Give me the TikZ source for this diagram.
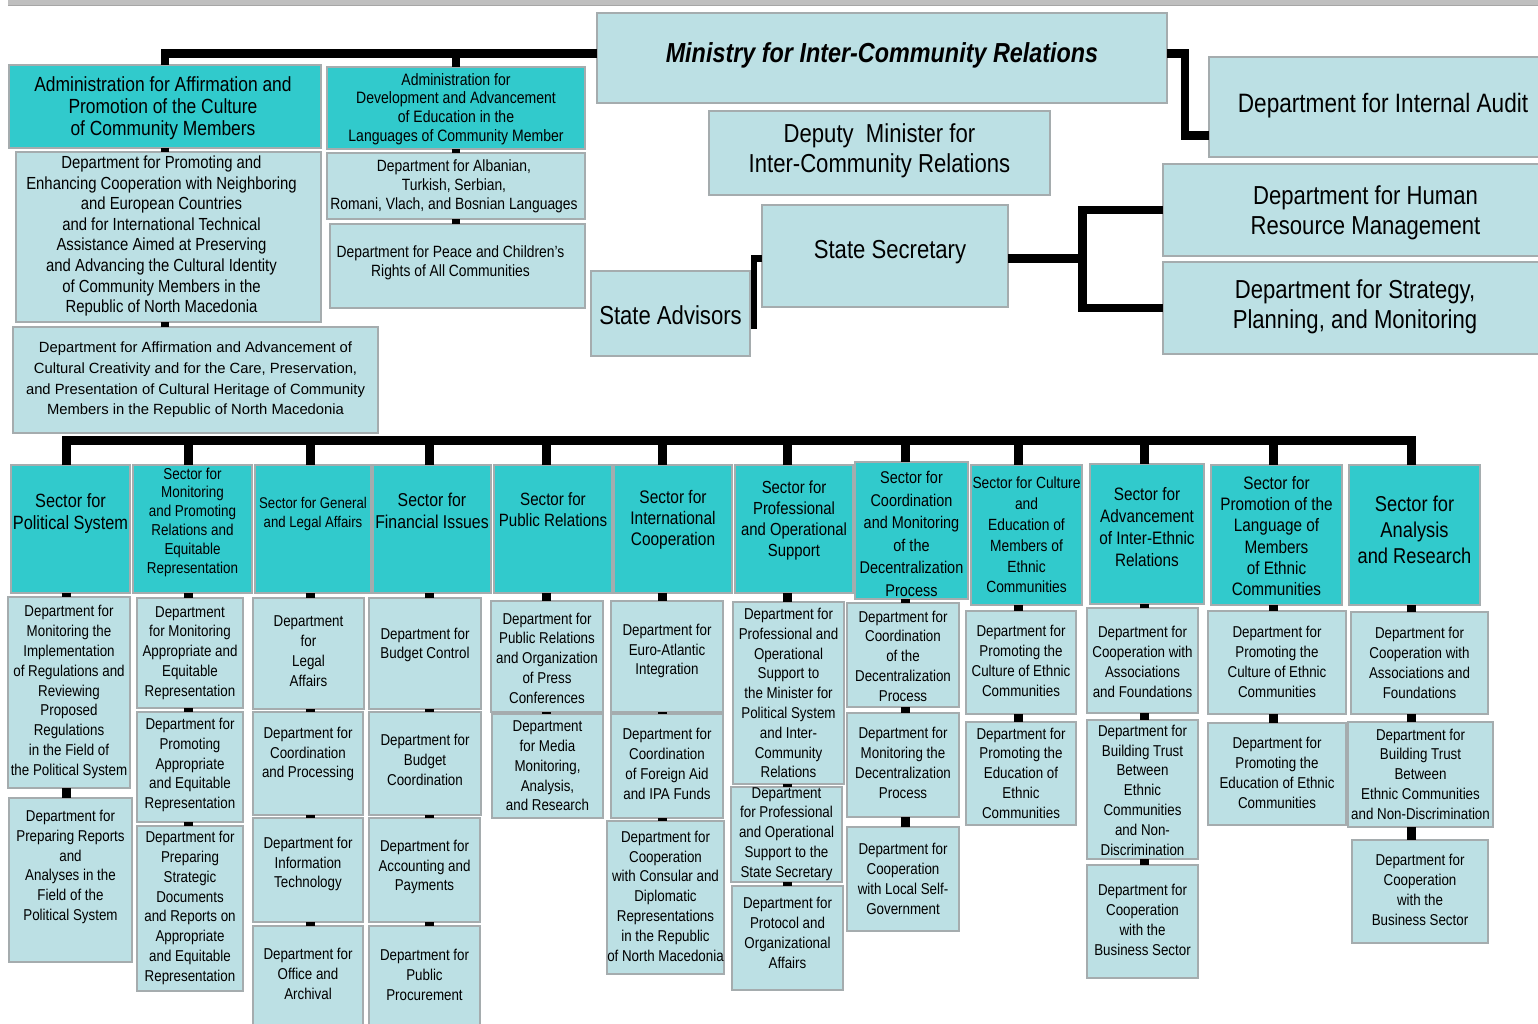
\documentclass[tikz,border=0pt]{standalone}
\usepackage{fontspec}
\setmainfont[FakeStretch=0.85]{Liberation Sans}
\newfontfamily\plainsans{Liberation Sans}
\usetikzlibrary{calc}
\definecolor{secteal}{RGB}{49,202,204}
\definecolor{deptblue}{RGB}{188,224,228}
\definecolor{edgegray}{RGB}{165,172,174}
\definecolor{bargray}{RGB}{191,191,191}

% \bx{name}{box style}{text style}{x1}{y1}{x2}{y2}{text centre y}{text}
\newcommand\bx[9]{%
  \node[#2, minimum width={#6pt-#4pt}, minimum height={#7pt-#5pt}] (#1) at ({(#4+#6)/2},{(#5+#7)/2}) {};
  \node[#3, align=center, inner sep=0pt] (#1-t) at ({(#4+#6)/2},#8) {#9};
}

\begin{document}
\begin{tikzpicture}[x=1pt,y=-1pt,
  box/.style={rectangle, draw=edgegray, line width=1.2pt, inner sep=0pt, outer sep=0pt},
  sec/.style={box, fill=secteal},
  dep/.style={box, fill=deptblue},
  tx/.style 2 args={font=\fontsize{#1}{#2}\selectfont},
  dt/.style={tx={15.7}{19.8}},
  big/.style={tx={26}{30}},
  widetext/.style={font=\plainsans\fontsize{14.8}{20.6}\selectfont},
  conn/.style={draw=black, line width=8.5pt, line join=miter},
  bus/.style={draw=black, line width=9pt, line join=miter},
]
\useasboundingbox (0,0) rectangle (1538,1023);

% header strip
\fill[bargray] (8,0) rectangle (1538,5);
\draw[black!35, line width=1pt] (8,5) -- (1538,5);

% ---------- leadership ----------
\bx{ministry}{dep}{tx={27.5}{30}}{597}{13}{1167}{103}{55}{\bfseries\itshape Ministry for Inter-Community Relations}
\bx{audit}{dep}{tx={26.6}{30}}{1209}{57}{1557}{157}{106}{Department for Internal Audit}
\bx{deputy}{dep}{big}{709}{111}{1050}{195}{151}{Deputy\ \ Minister for\\Inter-Community Relations}
\bx{ss}{dep}{big,xshift=5pt}{762}{205}{1008}{307}{252}{State Secretary}
\bx{sa}{dep}{big}{591}{271}{750}{356}{315}{State Advisors}
\bx{hr}{dep}{big}{1163}{164}{1568}{256}{213}{Department for Human\\Resource Management}
\bx{strat}{dep}{big}{1163}{262}{1547}{354}{307}{Department for Strategy,\\Planning, and Monitoring}

% ---------- administrations ----------
\bx{adm1}{sec}{tx={20.5}{22}, xshift=-2pt}{9}{65}{321}{148}{108}{Administration for Affirmation and\\Promotion of the Culture\\of Community Members}
\bx{adm2}{sec}{tx={16.5}{18.7}}{327}{67}{585}{149}{109}{Administration for\\Development and Advancement\\of Education in the\\Languages of Community Member}
\bx{da1}{dep}{tx={17.5}{20.6}, xshift=-7pt}{16}{152}{321}{322}{236}{Department for Promoting and\\Enhancing Cooperation with Neighboring\\and European Countries\\and for International Technical\\Assistance Aimed at Preserving\\and Advancing the Cultural Identity\\of Community Members in the\\Republic of North Macedonia}
\bx{daff}{dep}{widetext}{13}{327}{378}{433}{380}{Department for Affirmation and Advancement of\\Cultural Creativity and for the Care, Preservation,\\and Presentation of Cultural Heritage of Community\\Members in the Republic of North Macedonia}
\bx{alb}{dep}{tx={16.3}{19}, xshift=-2pt}{327}{153}{585}{219}{186}{Department for Albanian,\\Turkish, Serbian,\\Romani, Vlach, and Bosnian Languages}
\bx{peace}{dep}{tx={16.3}{19}, xshift=-7pt}{330}{224}{585}{308}{263}{Department for Peace and Children's\\Rights of All Communities}

% ---------- sectors ----------
\bx{s1}{sec}{tx={19.2}{22}}{11}{465}{130}{593}{514}{Sector for\\Political System}
\bx{s2}{sec}{tx={15.8}{18.8}}{133}{465}{252}{593}{522}{Sector for\\Monitoring\\and Promoting\\Relations and\\Equitable\\Representation}
\bx{s3}{sec}{tx={15.5}{18.7}}{255}{465}{371}{593}{514}{Sector for General\\and Legal Affairs}
\bx{s4}{sec}{tx={18.6}{22}}{373}{465}{491}{593}{511}{Sector for\\Financial Issues}
\bx{s5}{sec}{tx={17.8}{21}}{494}{465}{612}{593}{510}{Sector for\\Public Relations}
\bx{s6}{sec}{tx={18.2}{21}}{614}{465}{732}{593}{520}{Sector for\\International\\Cooperation}
\bx{s7}{sec}{tx={17.5}{21}}{735}{465}{853}{593}{520}{Sector for\\Professional\\and Operational\\Support}
\bx{s8}{sec}{tx={17}{22.5}}{855}{462}{968}{599}{534}{Sector for\\Coordination\\and Monitoring\\of the\\Decentralization\\Process}
\bx{s9}{sec}{tx={16.2}{20.8}}{971}{465}{1082}{605}{535}{Sector for Culture\\and\\Education of\\Members of\\Ethnic\\Communities}
\bx{s10}{sec}{tx={18}{22}}{1090}{464}{1204}{604}{527}{Sector for\\Advancement\\of Inter-Ethnic\\Relations}
\bx{s11}{sec}{tx={18}{21.3}}{1211}{465}{1342}{605}{536}{Sector for\\Promotion of the\\Language of\\Members\\of Ethnic\\Communities}
\bx{s12}{sec}{tx={21.5}{26}}{1349}{465}{1480}{605}{530}{Sector for\\Analysis\\and Research}

% ---------- departments ----------
\bx{d1a}{dep}{dt}{8}{597}{130}{788}{692}{Department for\\Monitoring the\\Implementation\\of Regulations and\\Reviewing\\Proposed\\Regulations\\in the Field of\\the Political System}
\bx{d1b}{dep}{dt}{9}{798}{132}{962}{867}{Department for\\Preparing Reports\\and\\Analyses in the\\Field of the\\Political System}
\bx{d2a}{dep}{dt}{137}{598}{243}{708}{653}{Department\\for Monitoring\\Appropriate and\\Equitable\\Representation}
\bx{d2b}{dep}{dt}{137}{712}{243}{822}{765}{Department for\\Promoting\\Appropriate\\and Equitable\\Representation}
\bx{d2c}{dep}{dt}{137}{826}{243}{991}{908}{Department for\\Preparing\\Strategic\\Documents\\and Reports on\\Appropriate\\and Equitable\\Representation}
\bx{d3a}{dep}{dt}{253}{598}{364}{709}{651}{Department\\for\\Legal\\Affairs}
\bx{d3b}{dep}{dt}{253}{712}{363}{815}{754}{Department for\\Coordination\\and Processing}
\bx{d3c}{dep}{dt}{253}{818}{363}{922}{864}{Department for\\Information\\Technology}
\bx{d3d}{dep}{dt}{253}{926}{363}{1030}{974}{Department for\\Office and\\Archival}
\bx{d4a}{dep}{dt}{369}{598}{481}{709}{645}{Department for\\Budget Control}
\bx{d4b}{dep}{dt}{369}{712}{481}{815}{760}{Department for\\Budget\\Coordination}
\bx{d4c}{dep}{dt}{369}{818}{480}{922}{867}{Department for\\Accounting and\\Payments}
\bx{d4d}{dep}{dt}{369}{926}{480}{1030}{975}{Department for\\Public\\Procurement}
\bx{d5a}{dep}{dt}{491}{601}{603}{712}{658}{Department for\\Public Relations\\and Organization\\of Press\\Conferences}
\bx{d5b}{dep}{dt}{492}{714}{603}{818}{766}{Department\\for Media\\Monitoring,\\Analysis,\\and Research}
\bx{d6a}{dep}{dt}{611}{601}{723}{712}{651}{Department for\\Euro-Atlantic\\Integration}
\bx{d6b}{dep}{dt}{611}{714}{723}{818}{764}{Department for\\Coordination\\of Foreign Aid\\and IPA Funds}
\bx{d6c}{dep}{dt}{607}{821}{724}{974}{896}{Department for\\Cooperation\\with Consular and\\Diplomatic\\Representations\\in the Republic\\of North Macedonia}
\bx{d7a}{dep}{dt}{733}{602}{844}{784}{693}{Department for\\Professional and\\Operational\\Support to\\the Minister for\\Political System\\and Inter-\\Community\\Relations}
\bx{d7b}{dep}{dt}{731}{787}{842}{882}{834}{Department\\for Professional\\and Operational\\Support to the\\State Secretary}
\bx{d7c}{dep}{dt}{732}{886}{843}{990}{933}{Department for\\Protocol and\\Organizational\\Affairs}
\bx{d8a}{dep}{dt}{847}{603}{959}{707}{656}{Department for\\Coordination\\of the\\Decentralization\\Process}
\bx{d8b}{dep}{dt}{847}{713}{959}{817}{763}{Department for\\Monitoring the\\Decentralization\\Process}
\bx{d8c}{dep}{dt}{847}{827}{959}{931}{879}{Department for\\Cooperation\\with Local Self-\\Government}
\bx{d9a}{dep}{dt}{966}{611}{1076}{714}{661}{Department for\\Promoting the\\Culture of Ethnic\\Communities}
\bx{d9b}{dep}{dt}{966}{722}{1076}{825}{773}{Department for\\Promoting the\\Education of\\Ethnic\\Communities}
\bx{d10a}{dep}{dt}{1087}{608}{1198}{713}{662}{Department for\\Cooperation with\\Associations\\and Foundations}
\bx{d10b}{dep}{dt}{1087}{720}{1198}{859}{790}{Department for\\Building Trust\\Between\\Ethnic\\Communities\\and Non-\\Discrimination}
\bx{d10c}{dep}{dt}{1087}{865}{1198}{978}{920}{Department for\\Cooperation\\with the\\Business Sector}
\bx{d11a}{dep}{dt}{1208}{611}{1346}{714}{662}{Department for\\Promoting the\\Culture of Ethnic\\Communities}
\bx{d11b}{dep}{dt}{1208}{723}{1346}{825}{773}{Department for\\Promoting the\\Education of Ethnic\\Communities}
\bx{d12a}{dep}{dt}{1351}{612}{1488}{714}{663}{Department for\\Cooperation with\\Associations and\\Foundations}
\bx{d12b}{dep}{dt}{1348}{722}{1493}{827}{774}{Department for\\Building Trust\\Between\\Ethnic Communities\\and Non-Discrimination}
\bx{d12c}{dep}{dt}{1352}{840}{1488}{943}{890}{Department for\\Cooperation\\with the\\Business Sector}

% ---------- upper connectors ----------
\coordinate (mw) at ([yshift=4.5pt]ministry.west);
\draw[conn] (mw) -| (adm1.north);
\draw[conn] (mw -| adm2.north) -- (adm2.north);
\draw[conn] (adm1.south) -- (adm1.south |- da1.north);
\draw[conn] (adm1.south |- da1.south) -- (adm1.south |- daff.north);
\draw[conn] (adm2.south) -- (adm2.south |- alb.north);
\draw[conn] (adm2.south |- alb.south) -- (adm2.south |- peace.north);

\coordinate (me) at ([yshift=4.5pt]ministry.east);
\draw[conn] (me) -- ++(18,0) |- ([yshift=-28.5pt]audit.west);

\coordinate (ssj) at ($(ss.east)+(74.5,2.5)$);
\draw[conn] (ss.east |- ssj) -- (ssj);
\draw[conn] (hr.west) -| (ssj) |- (strat.west);
\draw[conn, line width=6.5pt] (ss.west |- ssj) -| ($(sa.east)+(4,15)$);

% ---------- sector bus ----------
\foreach \i/\xx in {1/66,2/188,3/310,4/429,5/546,6/662.5,7/787.5,8/905,9/1018,10/1144.5,11/1273,12/1411}
  \coordinate (c\i) at (\xx,440);
\draw[bus] (c1 |- s1.north) -- (c1) -- (c12) -- (c12 |- s12.north);
\foreach \i in {2,...,11}
  \draw[bus] (c\i) -- (c\i |- s\i.north);

% ---------- column links ----------
\foreach \c/\a/\b in {c1/s1/d1a, c1/d1a/d1b, c2/s2/d2a, c2/d2a/d2b, c2/d2b/d2c,
    c3/s3/d3a, c3/d3a/d3b, c3/d3b/d3c, c3/d3c/d3d, c4/s4/d4a, c4/d4a/d4b, c4/d4b/d4c, c4/d4c/d4d,
    c5/s5/d5a, c5/d5a/d5b, c6/s6/d6a, c6/d6a/d6b, c6/d6b/d6c, c7/s7/d7a, c7/d7a/d7b, c7/d7b/d7c,
    c8/s8/d8a, c8/d8a/d8b, c8/d8b/d8c, c9/s9/d9a, c9/d9a/d9b, c10/s10/d10a, c10/d10a/d10b, c10/d10b/d10c,
    c11/s11/d11a, c11/d11a/d11b, c12/s12/d12a, c12/d12a/d12b, c12/d12b/d12c}
  \draw[bus] (\c |- \a.south) -- (\c |- \b.north);
\end{tikzpicture}
\end{document}
